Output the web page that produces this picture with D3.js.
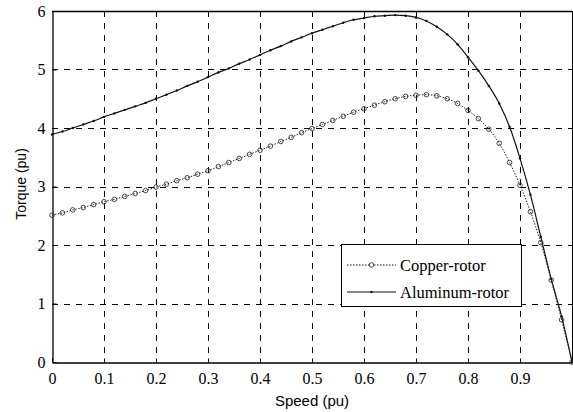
<!DOCTYPE html>
<html>
<head>
<meta charset="utf-8">
<script src="https://cdn.jsdelivr.net/npm/d3@7"></script>
<style>
  body { margin: 0; background: #fff; }
  svg { display: block; }
</style>
</head>
<body>
<svg></svg>
<script>
// speed points (pu), one marker every 0.02
let speed = [0, 0.02, 0.04, 0.06, 0.08, 0.1, 0.12, 0.14, 0.16, 0.18,
  0.2, 0.22, 0.24, 0.26, 0.28, 0.3, 0.32, 0.34, 0.36, 0.38,
  0.4, 0.42, 0.44, 0.46, 0.48, 0.5, 0.52, 0.54, 0.56, 0.58,
  0.6, 0.62, 0.64, 0.66, 0.68, 0.7, 0.72, 0.74, 0.76, 0.78,
  0.8, 0.82, 0.84, 0.86, 0.88, 0.9, 0.92, 0.94, 0.96, 0.98, 1.0];

let copper = [2.51, 2.55, 2.60, 2.64, 2.69, 2.74, 2.78, 2.83, 2.88, 2.93,
  2.99, 3.04, 3.10, 3.15, 3.21, 3.27, 3.34, 3.41, 3.48, 3.55,
  3.62, 3.69, 3.77, 3.84, 3.92, 3.99, 4.06, 4.13, 4.20, 4.27,
  4.33, 4.39, 4.45, 4.50, 4.54, 4.56, 4.57, 4.55, 4.50, 4.42,
  4.30, 4.16, 3.98, 3.74, 3.41, 3.02, 2.57, 2.04, 1.40, 0.72, 0];

let aluminum = [3.89, 3.94, 4.00, 4.06, 4.12, 4.19, 4.25, 4.31, 4.37, 4.43,
  4.50, 4.57, 4.64, 4.72, 4.79, 4.87, 4.95, 5.02, 5.10, 5.17,
  5.25, 5.33, 5.40, 5.48, 5.55, 5.62, 5.68, 5.74, 5.80, 5.85,
  5.88, 5.91, 5.92, 5.93, 5.92, 5.89, 5.83, 5.73, 5.60, 5.43,
  5.21, 4.98, 4.72, 4.42, 4.02, 3.48, 2.86, 2.14, 1.42, 0.78, 0];

let xTicks = [0, 0.1, 0.2, 0.3, 0.4, 0.5, 0.6, 0.7, 0.8, 0.9];
let xTickLabels = ["0", "0.1", "0.2", "0.3", "0.4", "0.5", "0.6", "0.7", "0.8", "0.9"];
let yTicks = [0, 1, 2, 3, 4, 5, 6];
let yTickLabels = ["0", "1", "2", "3", "4", "5", "6"];
let seriesNames = ["Copper-rotor", "Aluminum-rotor"];

let width = 573;
let height = 412;
let plotLeft = 52, plotRight = 572, plotTop = 11, plotBottom = 362;

let svg = d3.select("svg").attr("width", width).attr("height", height);

let xScale = d3.scaleLinear().domain([0, 1]).range([plotLeft, plotRight]);
let yScale = d3.scaleLinear().domain([0, 6]).range([plotBottom, plotTop]);

// grid
let grid = svg.append("g").attr("stroke", "#000").attr("stroke-width", 1)
  .attr("stroke-dasharray", "6,6").attr("fill", "none");
grid.selectAll("line.vx")
  .data(xTicks.filter((d) => d > 0))
  .enter().append("line")
  .attr("x1", (d) => Math.round(xScale(d)) + 0.5)
  .attr("x2", (d) => Math.round(xScale(d)) + 0.5)
  .attr("y1", plotTop).attr("y2", plotBottom);
grid.selectAll("line.hy")
  .data(yTicks.filter((d) => d > 0 && d < 6))
  .enter().append("line")
  .attr("x1", plotLeft).attr("x2", plotRight)
  .attr("y1", (d) => Math.round(yScale(d)) + 0.5)
  .attr("y2", (d) => Math.round(yScale(d)) + 0.5);

// axes
let xAxis = d3.axisBottom(xScale)
  .tickValues(xTicks)
  .tickFormat((d, i) => xTickLabels[i])
  .tickSizeInner(-4).tickSizeOuter(0).tickPadding(10);
let gx = svg.append("g")
  .attr("transform", "translate(0," + (plotBottom + 0.5) + ")")
  .call(xAxis);

let yAxis = d3.axisLeft(yScale)
  .tickValues(yTicks)
  .tickFormat((d, i) => yTickLabels[i])
  .tickSizeInner(-4).tickSizeOuter(0).tickPadding(7);
let gy = svg.append("g")
  .attr("transform", "translate(" + (plotLeft + 0.5) + ",0)")
  .call(yAxis);

[gx, gy].forEach((g) => {
  g.select(".domain").attr("stroke", "#000").attr("stroke-width", 1.3);
  g.selectAll("text")
    .attr("fill", "#000")
    .style("font-family", "'Liberation Serif', 'Times New Roman', serif")
    .style("font-size", "16px");
  g.selectAll(".tick line").attr("stroke", "#000");
});

// top and right border
svg.append("line").attr("x1", plotLeft).attr("x2", plotRight)
  .attr("y1", plotTop + 0.5).attr("y2", plotTop + 0.5)
  .attr("stroke", "#000").attr("stroke-width", 1.3);
svg.append("line").attr("x1", plotRight + 0.5).attr("x2", plotRight + 0.5)
  .attr("y1", plotTop).attr("y2", plotBottom)
  .attr("stroke", "#000").attr("stroke-width", 1);

// axis titles
svg.append("text")
  .attr("x", (plotLeft + plotRight) / 2).attr("y", 406)
  .attr("text-anchor", "middle")
  .style("font-family", "'Liberation Sans', Arial, sans-serif")
  .style("font-size", "15px")
  .text("Speed (pu)");
svg.append("text")
  .attr("transform", "translate(26,184) rotate(-90)")
  .attr("text-anchor", "middle")
  .style("font-family", "'Liberation Sans', Arial, sans-serif")
  .style("font-size", "14px")
  .text("Torque (pu)");

// curves
let copperPts = speed.map((s, i) => [s, copper[i]]);
let aluPts = speed.map((s, i) => [s, aluminum[i]]);
let line = d3.line().x((d) => xScale(d[0])).y((d) => yScale(d[1])).curve(d3.curveMonotoneX);

svg.append("path").datum(aluPts)
  .attr("d", line).attr("fill", "none")
  .attr("stroke", "#111").attr("stroke-width", 1.2);
svg.append("g").selectAll("circle")
  .data(aluPts).enter().append("circle")
  .attr("cx", (d) => xScale(d[0])).attr("cy", (d) => yScale(d[1]))
  .attr("r", 1.2).attr("fill", "#111");

svg.append("path").datum(copperPts)
  .attr("d", line).attr("fill", "none")
  .attr("stroke", "#222").attr("stroke-width", 1)
  .attr("stroke-dasharray", "1.5,1.5");
svg.append("g").selectAll("circle")
  .data(copperPts).enter().append("circle")
  .attr("cx", (d) => xScale(d[0])).attr("cy", (d) => yScale(d[1]))
  .attr("r", 2.3).attr("fill", "none")
  .attr("stroke", "#333").attr("stroke-width", 0.9);

// legend
let legend = svg.append("g");
legend.append("rect")
  .attr("x", 341.5).attr("y", 244.5).attr("width", 180).attr("height", 62)
  .attr("fill", "#fff").attr("stroke", "#000").attr("stroke-width", 1);
let rows = [265, 292];
seriesNames.forEach((name, i) => {
  let y = rows[i];
  let l = legend.append("line")
    .attr("x1", 347).attr("x2", 396).attr("y1", y).attr("y2", y)
    .attr("stroke", "#111");
  if (i === 0) {
    l.attr("stroke-dasharray", "1.5,1.5").attr("stroke-width", 1);
    legend.append("circle").attr("cx", 371.5).attr("cy", y).attr("r", 2.3)
      .attr("fill", "#fff").attr("stroke", "#333").attr("stroke-width", 0.9);
  } else {
    l.attr("stroke-width", 1.2);
    legend.append("circle").attr("cx", 371.5).attr("cy", y).attr("r", 1.2)
      .attr("fill", "#111");
  }
  legend.append("text")
    .attr("x", 400).attr("y", y + 5.5)
    .style("font-family", "'Liberation Serif', 'Times New Roman', serif")
    .style("font-size", "16.5px")
    .text(name);
});
</script>
</body>
</html>
